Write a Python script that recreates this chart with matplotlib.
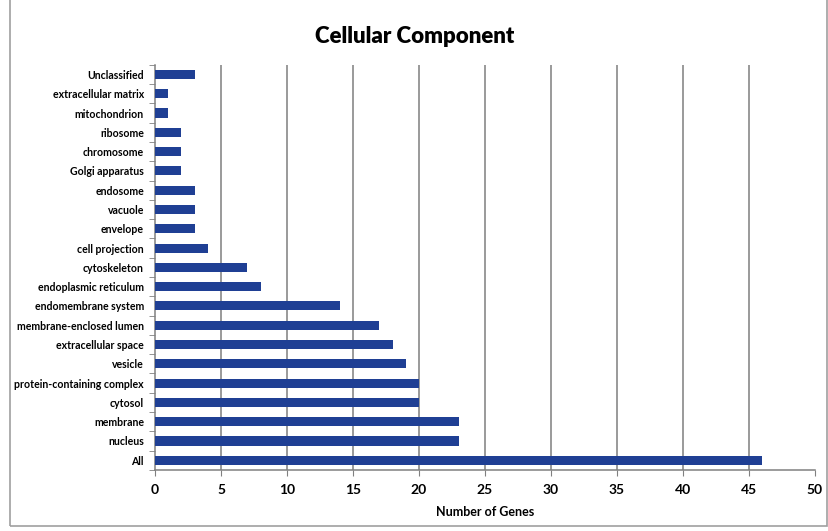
import matplotlib.pyplot as plt
from matplotlib.patches import Rectangle

# categories listed bottom to top
categories = ["All", "nucleus", "membrane", "cytosol", "protein-containing complex",
              "vesicle", "extracellular space", "membrane-enclosed lumen",
              "endomembrane system", "endoplasmic reticulum", "cytoskeleton",
              "cell projection", "envelope", "vacuole", "endosome", "Golgi apparatus",
              "chromosome", "ribosome", "mitochondrion", "extracellular matrix",
              "Unclassified"]
genes = [46, 23, 23, 20, 20, 19, 18, 17, 14, 8, 7, 4, 3, 3, 3, 2, 2, 2, 1, 1, 3]
x_ticks = [0, 5, 10, 15, 20, 25, 30, 35, 40, 45, 50]

plt.rcParams['font.family'] = ['Lato', 'DejaVu Sans']
plt.rcParams['font.weight'] = 'bold'

fig = plt.figure(figsize=(8.29, 5.31), dpi=100)
ax = fig.add_axes([0.187, 0.115, 0.796, 0.763])

# outer frame of the chart area
fig.patches.append(Rectangle((0.012, 0.01), 0.985, 1.2, transform=fig.transFigure,
                             fill=False, edgecolor="#a0a0a0", linewidth=1.2))

ypos = list(range(len(categories)))
ax.barh(ypos, genes, height=0.47, color="#1f3f94", zorder=3)

ax.set_xlim(0, 50)
ax.set_ylim(-0.5, len(categories) - 0.5)
ax.set_xticks(x_ticks)
ax.set_xticklabels([str(v) for v in x_ticks], fontsize=10, fontweight="bold")
ax.set_yticks(ypos)
ax.set_yticklabels(categories, fontsize=7.6, fontweight="bold")
ax.tick_params(axis="y", length=0, pad=8)
ax.set_yticks([i - 0.5 for i in range(len(categories) + 1)], minor=True)
ax.tick_params(axis="y", which="minor", length=4, color="#808080")
ax.tick_params(axis="x", length=4, color="#808080", pad=6)

for v in x_ticks[1:-1]:
    ax.axvline(v, color="#7f7f7f", linewidth=1.1, zorder=1)

for side in ["top", "right"]:
    ax.spines[side].set_visible(False)
for side in ["left", "bottom"]:
    ax.spines[side].set_color("#808080")
    ax.spines[side].set_linewidth(1.1)

ax.set_xlabel("Number of Genes", fontsize=9, fontweight="bold", labelpad=7)
fig.text(0.5, 0.932, "Cellular Component", ha="center", va="center",
         fontsize=16, fontweight="heavy")

fig.savefig("out.png", dpi=100)
